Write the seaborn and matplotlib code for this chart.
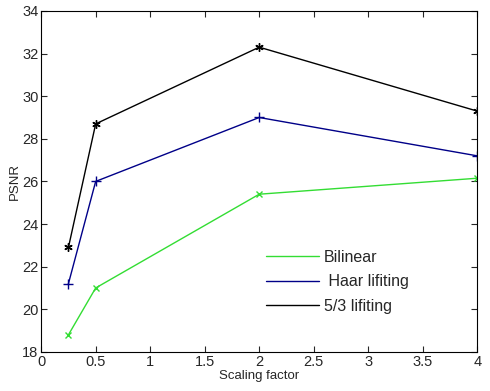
import numpy as np
import pandas as pd
import matplotlib
matplotlib.use("Agg")
import matplotlib.pyplot as plt
import seaborn as sns

# datos
escala = [0.25, 0.5, 2, 4]
bilinear = [18.8, 21.0, 25.4, 26.15]
haar = [21.2, 26.0, 29.0, 27.2]
lifting53 = [22.9, 28.7, 32.3, 29.3]

sns.set_style("white")
plt.rcParams['font.family'] = ['Liberation Sans', 'DejaVu Sans']

df = pd.DataFrame({
    "x": escala * 3,
    "psnr": bilinear + haar + lifting53,
    "serie": ["Bilinear"] * 4 + [" Haar lifiting"] * 4 + ["5/3 lifiting"] * 4,
})

fig, ax = plt.subplots(figsize=(4.9, 3.91), dpi=100)
fig.subplots_adjust(left=0.084, right=0.974, top=0.972, bottom=0.1)

colores = {"Bilinear": "#33dd33", " Haar lifiting": "#000088", "5/3 lifiting": "#000000"}
marcas = {"Bilinear": "x", " Haar lifiting": "+", "5/3 lifiting": (6, 2, 0)}
tam = {"Bilinear": 5, " Haar lifiting": 7, "5/3 lifiting": 6}
for s in ["Bilinear", " Haar lifiting", "5/3 lifiting"]:
    d = df[df["serie"] == s]
    sns.lineplot(data=d, x="x", y="psnr", ax=ax, color=colores[s], marker=marcas[s],
                 markersize=tam[s], markeredgewidth=1.0, markeredgecolor=colores[s],
                 linewidth=1.0, label=s)

ax.set_xlim(0, 4)
ax.set_ylim(18, 34)
ax.set_xticks(np.arange(0, 4.01, 0.5))
ax.set_xticklabels(["0", "0.5", "1", "1.5", "2", "2.5", "3", "3.5", "4"])
ax.set_yticks(np.arange(18, 35, 2))
ax.set_xlabel("Scaling factor", fontsize=9.5, labelpad=1)
ax.set_ylabel("PSNR", fontsize=9.5, labelpad=1)
ax.tick_params(direction="in", length=4, width=0.8, labelsize=10.5, top=True, right=True,
               bottom=True, left=True, pad=2)
for sp in ax.spines.values():
    sp.set_color("black")
    sp.set_linewidth(0.8)

leg = ax.legend(loc="upper left", bbox_to_anchor=(0.516, 0.30), frameon=False,
                borderpad=0, borderaxespad=0,
                handlelength=3.3, fontsize=11.5, handletextpad=0.3, labelspacing=0.6)
for h in leg.legend_handles:
    h.set_marker("")

fig.savefig("out.png", dpi=100)
